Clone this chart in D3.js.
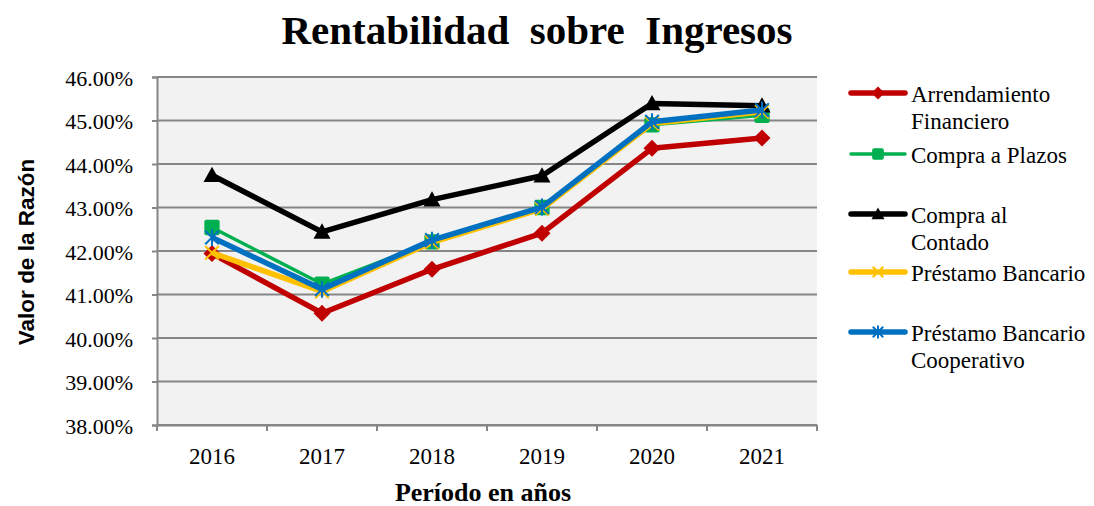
<!DOCTYPE html>
<html>
<head>
<meta charset="utf-8">
<script src="https://cdn.jsdelivr.net/npm/d3@7"></script>
<style>
  html, body { margin: 0; padding: 0; background: #ffffff; }
  svg { display: block; }
</style>
</head>
<body>
<svg id="chart" width="1094" height="506"></svg>
<script>
// Chart data
const years = ["2016", "2017", "2018", "2019", "2020", "2021"];
const seriesNames = ["Arrendamiento Financiero", "Compra a Plazos", "Compra al Contado",
                     "Préstamo Bancario", "Préstamo Bancario Cooperativo"];
const legendLines = [["Arrendamiento", "Financiero"], ["Compra a Plazos"], ["Compra al", "Contado"],
                     ["Préstamo Bancario"], ["Préstamo Bancario", "Cooperativo"]];
const arrendamiento = [41.94, 40.57, 41.58, 42.41, 44.36, 44.60];
const compraPlazos  = [42.54, 41.24, 42.21, 43.00, 44.90, 45.12];
const compraContado = [43.74, 42.44, 43.18, 43.73, 45.39, 45.34];
const prestamo      = [41.96, 41.07, 42.20, 42.97, 44.93, 45.20];
const prestamoCoop  = [42.31, 41.12, 42.25, 43.01, 44.97, 45.24];
const yTicks = [38, 39, 40, 41, 42, 43, 44, 45, 46];
const titleText = "Rentabilidad  sobre  Ingresos";
const xTitleText = "Período en años";
const yTitleText = "Valor de la Razón";

const seriesValues = [arrendamiento, compraPlazos, compraContado, prestamo, prestamoCoop];
const colors = ["#C00000", "#00B050", "#000000", "#FFC000", "#0070C0"];
const lineWidths = [5.5, 3.5, 5.5, 5.5, 5.5];
const markerKinds = ["diamond", "square", "triangle", "x", "star"];

const svg = d3.select("#chart");
const serif = "'Liberation Serif', 'Times New Roman', serif";
const sans = "'Liberation Sans', Arial, sans-serif";

const plot = { left: 157, right: 817, top: 77, bottom: 425 };

const x = d3.scaleBand().domain(years).range([plot.left, plot.right]).padding(0);
const y = d3.scaleLinear().domain([38, 46]).range([plot.bottom, plot.top]);
const cx = d => x(d) + x.bandwidth() / 2;

function addText(parent, px, py, str, opts) {
  return parent.append("text")
    .attr("x", px).attr("y", py)
    .attr("text-anchor", opts.anchor || "start")
    .style("font-family", opts.family || serif)
    .style("font-size", opts.size + "px")
    .style("font-weight", opts.weight || "normal")
    .style("white-space", "pre")
    .attr("fill", "#000")
    .text(str);
}

// Title
addText(svg, 537, 44, titleText, { size: 41, weight: "bold", anchor: "middle" });

// Plot background
svg.append("rect")
  .attr("x", plot.left).attr("y", plot.top)
  .attr("width", plot.right - plot.left).attr("height", plot.bottom - plot.top)
  .attr("fill", "#F2F2F2");

// Gridlines
svg.append("g").selectAll("line").data(yTicks).join("line")
  .attr("x1", plot.left).attr("x2", plot.right)
  .attr("y1", d => y(d)).attr("y2", d => y(d))
  .attr("stroke", "#868686").attr("stroke-width", 2);

// Y axis
const yAxis = d3.axisLeft(y).tickValues(yTicks).tickSize(5).tickFormat(d => d.toFixed(2) + "%");
const yAxisG = svg.append("g").attr("transform", `translate(${plot.left},0)`).call(yAxis);
yAxisG.select(".domain").attr("stroke", "#868686").attr("stroke-width", 2);
yAxisG.selectAll(".tick line").attr("stroke", "#868686").attr("stroke-width", 2);
yAxisG.selectAll(".tick text")
  .attr("x", -24).attr("dy", null).attr("y", 8)
  .attr("fill", "#000")
  .style("font-family", serif).style("font-size", "22px");

// X axis with ticks at band boundaries
const xAxis = d3.axisBottom(x).tickSize(0).tickPadding(0);
const xAxisG = svg.append("g").attr("transform", `translate(0,${plot.bottom})`).call(xAxis);
xAxisG.select(".domain").attr("stroke", "#868686").attr("stroke-width", 2);
xAxisG.selectAll(".tick text")
  .attr("dy", null).attr("y", 39)
  .attr("fill", "#000")
  .style("font-family", serif).style("font-size", "23px");
const bounds = years.map(d => x(d)).concat([x(years[years.length - 1]) + x.bandwidth()]);
xAxisG.selectAll("line.bound").data(bounds).join("line")
  .attr("class", "bound")
  .attr("x1", d => d).attr("x2", d => d)
  .attr("y1", 0).attr("y2", 6)
  .attr("stroke", "#868686").attr("stroke-width", 2);

// Axis titles
addText(svg, 483, 501, xTitleText, { size: 26, weight: "bold", anchor: "middle" });
svg.append("text")
  .attr("transform", `translate(34,252) rotate(-90)`)
  .attr("text-anchor", "middle")
  .style("font-family", sans).style("font-size", "22.5px").style("font-weight", "bold")
  .text(yTitleText);

// Marker drawing
function drawMarker(g, kind, color, size) {
  const r = size / 2;
  if (kind === "diamond") {
    g.append("path").attr("d", `M0,${-r}L${r},0L0,${r}L${-r},0Z`).attr("fill", color);
  } else if (kind === "square") {
    g.append("rect").attr("x", -r * 0.9).attr("y", -r * 0.9).attr("width", r * 1.8).attr("height", r * 1.8)
      .attr("rx", 2).attr("fill", color);
  } else if (kind === "triangle") {
    g.append("path").attr("d", `M0,${-r}L${r},${r * 0.8}L${-r},${r * 0.8}Z`).attr("fill", color);
  } else if (kind === "x") {
    const a = r * 0.8;
    g.append("path").attr("d", `M${-a},${-a}L${a},${a}M${-a},${a}L${a},${-a}`)
      .attr("stroke", color).attr("stroke-width", 2).attr("fill", "none");
  } else if (kind === "star") {
    const a = r * 0.8;
    g.append("path").attr("d", `M${-a},${-a}L${a},${a}M${-a},${a}L${a},${-a}M0,${-r}L0,${r}`)
      .attr("stroke", color).attr("stroke-width", 2).attr("fill", "none");
  }
}

// Series lines and markers
const line = d3.line().x((d, i) => cx(years[i])).y(d => y(d));
seriesValues.forEach((vals, si) => {
  const g = svg.append("g").attr("class", "series");
  g.append("path").datum(vals)
    .attr("d", line)
    .attr("fill", "none")
    .attr("stroke", colors[si])
    .attr("stroke-width", lineWidths[si])
    .attr("stroke-linejoin", "round");
  vals.forEach((v, i) => {
    const mg = g.append("g").attr("transform", `translate(${cx(years[i])},${y(v)})`);
    drawMarker(mg, markerKinds[si], colors[si], 17);
  });
});

// Legend
const legendRowY = [93, 154, 214, 272, 332];
const legend = svg.append("g");
seriesNames.forEach((name, si) => {
  const ly = legendRowY[si];
  legend.append("line")
    .attr("x1", 851).attr("x2", 905).attr("y1", ly).attr("y2", ly)
    .attr("stroke", colors[si]).attr("stroke-width", lineWidths[si]).attr("stroke-linecap", "round");
  const mg = legend.append("g").attr("transform", `translate(878,${ly})`);
  drawMarker(mg, markerKinds[si], colors[si], 13);
  legendLines[si].forEach((ln, li) => {
    addText(legend, 911, ly + 9 + li * 27, ln, { size: 23, anchor: "start" });
  });
});
</script>
</body>
</html>
